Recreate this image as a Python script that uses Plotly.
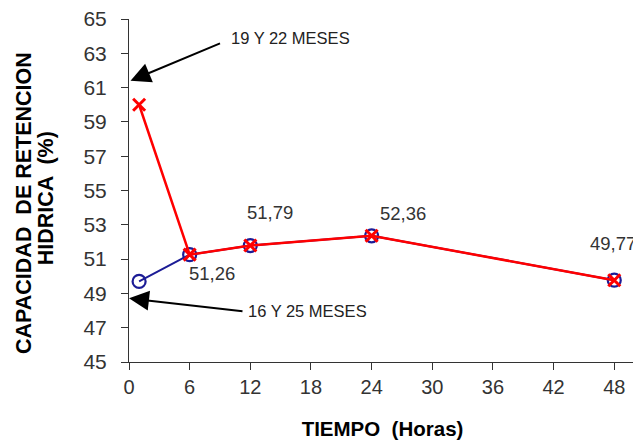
import plotly.graph_objects as go

# Data
hours = [1, 6, 12, 24, 48]
serie_16_25 = [49.7, 51.26, 51.79, 52.36, 49.77]   # 16 Y 25 MESES (blue circles)
serie_19_22 = [60.0, 51.26, 51.79, 52.36, 49.77]   # 19 Y 22 MESES (red x)
label_hours = [6, 12, 24, 48]
label_values = [51.26, 51.79, 52.36, 49.77]
x_ticks = [0, 6, 12, 18, 24, 30, 36, 42, 48]
y_ticks = [45, 47, 49, 51, 53, 55, 57, 59, 61, 63, 65]

BLUE = "#1c1c96"
RED = "#ff0000"
FONT = "Liberation Sans, Arial, sans-serif"

fig = go.Figure()
fig.add_trace(go.Scatter(
    x=hours, y=serie_16_25, mode="lines+markers", name="16 Y 25 MESES",
    line=dict(color=BLUE, width=2),
    marker=dict(symbol="circle-open", size=13, color=BLUE, line=dict(width=2.2, color=BLUE)),
))
fig.add_trace(go.Scatter(
    x=hours, y=serie_19_22, mode="lines+markers", name="19 Y 22 MESES",
    line=dict(color=RED, width=2.5),
    marker=dict(symbol="x-thin", size=12, color=RED, line=dict(width=3, color=RED)),
))

# data labels (offset from their points)
shifts = [(22, -19), (20, 33), (31, 22), (-1, 37)]
for hx, v, (dx, dy) in zip(label_hours, label_values, shifts):
    fig.add_annotation(
        x=hx, y=v, xref="x", yref="y", text=f"{v:.2f}".replace(".", ","),
        showarrow=False, xshift=dx, yshift=dy,
        font=dict(family=FONT, size=18.5, color="#333333"),
    )

# arrows + texts
arrows = [
    dict(tip=(0.15, 61.4), ax=91, ay=-38, text="19 Y 22 MESES", tx=98, ty=43),
    dict(tip=(0.0, 48.71), ax=115, ay=13, text="16 Y 25 MESES", tx=117, ty=-13),
]
for a in arrows:
    fig.add_annotation(
        x=a["tip"][0], y=a["tip"][1], xref="x", yref="y", text="",
        showarrow=True, ax=a["ax"], ay=a["ay"], axref="pixel", ayref="pixel",
        arrowhead=2, arrowsize=2, arrowwidth=2, arrowcolor="#000000", standoff=0,
    )
    fig.add_annotation(
        x=a["tip"][0], y=a["tip"][1], xref="x", yref="y", text=a["text"],
        showarrow=False, xanchor="left", yanchor="middle",
        xshift=a["tx"], yshift=a["ty"],
        font=dict(family=FONT, size=16.5, color="#222222"),
    )

# y title as two annotation lines
fig.add_annotation(
    xref="paper", yref="paper", x=(23.3 - 129) / 507, y=1 - (201.7 - 18) / 343,
    text="<b>CAPACIDAD  DE RETENCION</b>", textangle=-90, showarrow=False,
    xanchor="center", yanchor="middle",
    font=dict(family=FONT, size=21.5, color="#000000"),
)
fig.add_annotation(
    xref="paper", yref="paper", x=(45.8 - 129) / 507, y=1 - (197.5 - 18) / 343,
    text="<b>HIDRICA  (%)</b>", textangle=-90, showarrow=False,
    xanchor="center", yanchor="middle",
    font=dict(family=FONT, size=21.5, color="#000000"),
)

# the page body adds an 8px offset, so the figure is sized to fit the window
fig.update_layout(
    width=633, height=436,
    margin=dict(l=121, r=5, t=11, b=82, autoexpand=False),
    plot_bgcolor="white", paper_bgcolor="white",
    showlegend=False,
    font=dict(family=FONT, color="#333333"),
    xaxis=dict(
        range=[0, 50.15], tickvals=x_ticks, ticktext=[str(t) for t in x_ticks],
        showgrid=False, zeroline=False, showline=True, linecolor="#333333", linewidth=1,
        ticks="outside", ticklen=7, tickcolor="#333333", tickwidth=1,
        tickfont=dict(family=FONT, size=20, color="#333333"),
        ticklabeloverflow="allow", automargin=False,
        title=dict(text="<b>TIEMPO  (Horas)</b>", font=dict(family=FONT, size=20.5, color="#000000"), standoff=24),
    ),
    yaxis=dict(
        range=[45, 65], tickvals=y_ticks, ticktext=[str(t) for t in y_ticks],
        showgrid=False, zeroline=False, showline=True, linecolor="#333333", linewidth=1,
        ticks="outside", ticklen=7, tickcolor="#333333", tickwidth=1,
        tickfont=dict(family=FONT, size=21, color="#333333"),
        ticklabelstandoff=10, ticklabeloverflow="allow", automargin=False,
    ),
)

fig.write_html("out.html")
